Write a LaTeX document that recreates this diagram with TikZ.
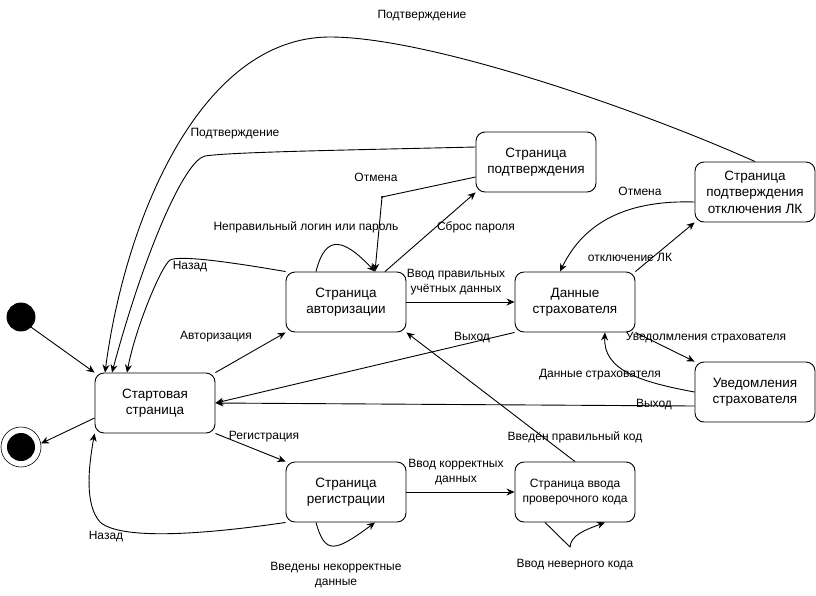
\documentclass[tikz,border=0pt]{standalone}
\usepackage{fontspec}
\setmainfont{Liberation Sans}
\usetikzlibrary{arrows.meta}

\begin{document}
\begin{tikzpicture}[x=1pt, y=-1pt, line width=0.9pt,
  state/.style={draw, rectangle, rounded corners=9pt, minimum width=120pt, minimum height=60pt, align=center, inner sep=2pt, font=\fontsize{13.5}{16.5}\selectfont},
  lbl/.style={align=center, inner sep=0pt, font=\fontsize{12}{14.5}\selectfont},
  arr/.style={-{Stealth[length=8pt, width=7pt]}}]
\useasboundingbox (0, 0) rectangle (816, 595);

\node [draw, circle, fill, minimum size=28pt, inner sep=0pt] (init) at (21, 317) {};
\node [draw, circle, minimum size=40pt, inner sep=0pt, line width=0.6pt] (fin) at (21, 447) {};
\fill (fin.center) circle (14pt);

\node [state] (start) at (155, 403) {Стартовая\\страница};
\node [state] (auth) at (346, 302) {Страница\\авторизации};
\node [state] (reg) at (346, 492) {Страница\\регистрации};
\node [state] (data) at (575, 302) {Данные\\страхователя};
\node [state, font=\fontsize{12}{15.5}\selectfont] (code) at (575, 492) {Страница ввода\\проверочного кода};
\node [state] (notif) at (755, 392) {Уведомления\\страхователя};
\node [state] (conf) at (536, 162) {Страница\\подтверждения};
\node [state] (confLK) at (755, 192) {Страница\\подтверждения\\отключения ЛК};

\coordinate (cancelPt) at (382, 197);
\coordinate (codeLoop) at (570, 547);

\draw [arr] (init.-45) -- (start.north west);
\draw [arr] ([yshift=-15pt]start.west) -- (fin.10);
\draw [arr] (start.north east) -- (auth.south west);
\draw [arr] (start.south east) -- (reg.north west);
\draw [arr] (auth.east) -- (data.west);
\draw [arr] (data.south west) -- (start.east);
\draw [arr] ([yshift=-14pt]notif.west) -- (start.east);
\draw [arr] (data.south east) -- (notif.north west);
\draw [arr] (notif.west) .. controls (640, 382) and (603, 370) .. ([xshift=30pt]data.south);
\draw [arr] (data.north east) -- (confLK.south west);
\draw [arr] ([yshift=-10pt]confLK.west) .. controls (630, 200) and (585, 220) .. ([xshift=-15pt]data.north);
\draw [arr] (confLK.north) .. controls (640, 110) and (430, 37) .. (330, 37) .. controls (200, 37) and (125, 220) .. ([xshift=-50pt]start.north);
\draw [arr] ([yshift=15pt]conf.west) .. controls (350, 150) and (230, 152) .. (205, 156) .. controls (185, 160) and (145, 250) .. ([xshift=-43pt]start.north);
\draw [arr] ([yshift=-15pt]conf.west) -- (cancelPt) -- ([xshift=29pt]auth.north);
\fill (cancelPt) circle (1.2pt);
\draw [arr] ([xshift=39pt]auth.north) -- (conf.south west);
\draw [arr] ([xshift=-30pt]auth.north) .. controls (326, 232) and (345, 240) .. ([xshift=29pt]auth.north);
\draw [arr] (auth.north west) .. controls (230, 262) and (180, 255) .. (170, 260) .. controls (160, 268) and (135, 330) .. ([xshift=-28pt]start.north);
\draw [arr] (reg.south west) .. controls (200, 535) and (120, 540) .. (100, 522) .. controls (85, 505) and (88, 470) .. (start.south west);
\draw [arr] ([xshift=-30pt]reg.south) .. controls (325, 555) and (335, 552) .. ([xshift=29pt]reg.south);
\draw [arr] (reg.east) -- (code.west);
\draw [arr] (code.north) -- (auth.south east);
\draw [arr] ([xshift=-30pt]code.south) -- (codeLoop) .. controls (571, 535) and (585, 530) .. ([xshift=30pt]code.south);

\node [lbl] (lConfTop) at (422, 16) {Подтверждение};
\node [lbl] (lConf) at (235, 134) {Подтверждение};
\node [lbl] (lCancel) at (376, 177) {Отмена};
\node [lbl] (lWrongLogin) at (306, 227) {Неправильный логин или пароль};
\node [lbl] (lReset) at (476, 227) {Сброс пароля};
\node [lbl] (lBackAuth) at (190, 267) {Назад};
\node [lbl] (lCorrectCreds) at (456, 282) {Ввод правильных\\учётных данных};
\node [lbl] (lCancelLK) at (640, 191) {Отмена};
\node [lbl] (lDisable) at (630, 257) {отключение ЛК};
\node [lbl] (lAuth) at (216, 337) {Авторизация};
\node [lbl] (lExitData) at (472, 338) {Выход};
\node [lbl] (lNotif) at (706, 338) {Уведолмления страхователя};
\node [lbl] (lInsData) at (600, 375) {Данные страхователя};
\node [lbl] (lExitNotif) at (654, 405) {Выход};
\node [lbl] (lReg) at (264, 437) {Регистрация};
\node [lbl] (lCodeOk) at (575, 437) {Введён правильный код};
\node [lbl] (lCorrectData) at (456, 472) {Ввод корректных\\данных};
\node [lbl] (lBackReg) at (106, 537) {Назад};
\node [lbl] (lWrongData) at (336, 575) {Введены некорректные\\данные};
\node [lbl] (lWrongCode) at (575, 565) {Ввод неверного кода};
\end{tikzpicture}
\end{document}
